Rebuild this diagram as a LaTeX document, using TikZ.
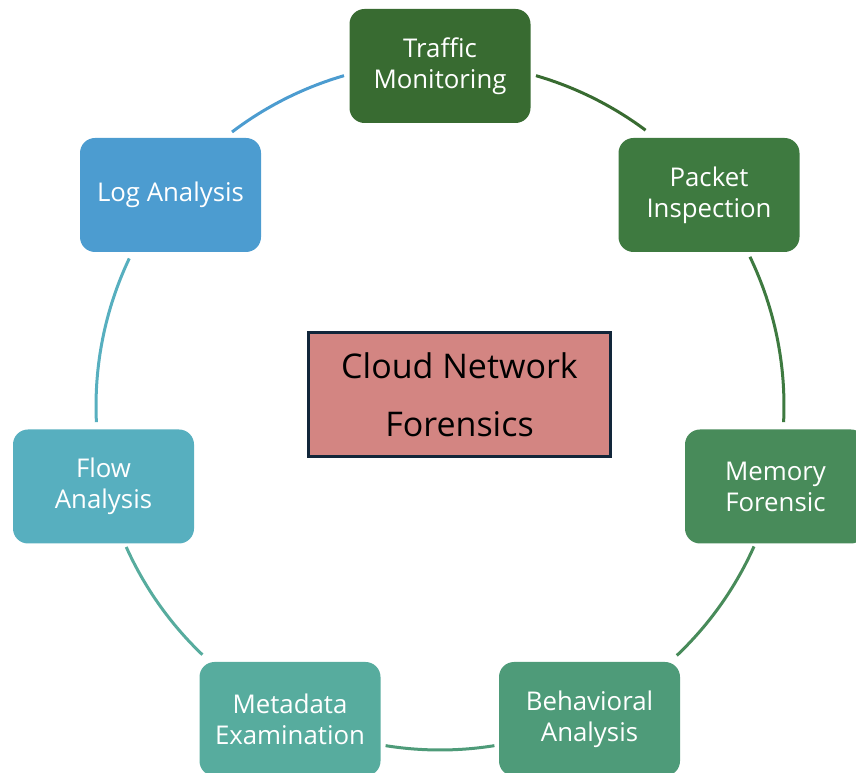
\documentclass[tikz,border=0pt]{standalone}
\usepackage{fontspec}
\setmainfont{Open Sans}
\definecolor{cTraffic}{HTML}{386B31}
\definecolor{cPacket}{HTML}{3E7A40}
\definecolor{cMemory}{HTML}{488B5A}
\definecolor{cBehav}{HTML}{4E9B79}
\definecolor{cMeta}{HTML}{57AC9E}
\definecolor{cFlow}{HTML}{57AFBF}
\definecolor{cLog}{HTML}{4C9CD0}
\definecolor{cCenter}{HTML}{D38582}
\definecolor{cBorder}{HTML}{12263A}
\begin{document}
\begin{tikzpicture}[x=1pt,y=1pt,
  stepbox/.style={rectangle, rounded corners=15pt, minimum width=181pt, minimum height=114pt,
    text=white, align=center, inner sep=0pt,
    font=\fontsize{25.8}{31}\selectfont},
  ring/.style={line width=3pt}]
\useasboundingbox (0,0) rectangle (856,773);
\clip (0,0) rectangle (856,773);
\coordinate (c) at (440,367);
% arcs
\draw[ring, cLog]     (c) ++(127.2:344) arc[start angle=127.2, end angle=106.2, radius=344];
\draw[ring, cTraffic] (c) ++(73.8:344)  arc[start angle=73.8,  end angle=53.3,  radius=344];
\draw[ring, cPacket]  (c) ++(25.7:344)  arc[start angle=25.7,  end angle=-2.7,  radius=344];
\draw[ring, cMemory]  (c) ++(-24.1:344) arc[start angle=-24.1, end angle=-46.5, radius=344];
\draw[ring, cBehav]   (c) ++(-80.9:344) arc[start angle=-80.9, end angle=-99.1, radius=344];
\draw[ring, cMeta]    (c) ++(-133.7:344) arc[start angle=-133.7, end angle=-155.8, radius=344];
\draw[ring, cFlow]    (c) ++(-177.3:344) arc[start angle=-177.3, end angle=-205.4, radius=344];
% nodes
\node[stepbox, fill=cTraffic] (traffic) at (440,707) {Traffic\\Monitoring};
\node[stepbox, fill=cPacket]  (packet)  at (709,578) {Packet\\Inspection};
\node[stepbox, fill=cMemory]  (memory)  at (775.5,286.5) {Memory\\Forensic};
\node[stepbox, fill=cBehav]   (behav)   at (589.5,54) {Behavioral\\Analysis};
\node[stepbox, fill=cMeta]    (meta)    at (290,54) {Metadata\\Examination};
\node[stepbox, fill=cFlow]    (flow)    at (103.5,286.5) {Flow\\Analysis};
\node[stepbox, fill=cLog]     (log)     at (170.5,578) {Log Analysis};
\node[rectangle, fill=cCenter, draw=cBorder, line width=3pt, minimum width=302pt, minimum height=124pt,
  align=center, inner sep=0pt, font=\fontsize{34}{58}\selectfont] (center) at (459.5,378.5) {Cloud Network\\Forensics};
\end{tikzpicture}
\end{document}
